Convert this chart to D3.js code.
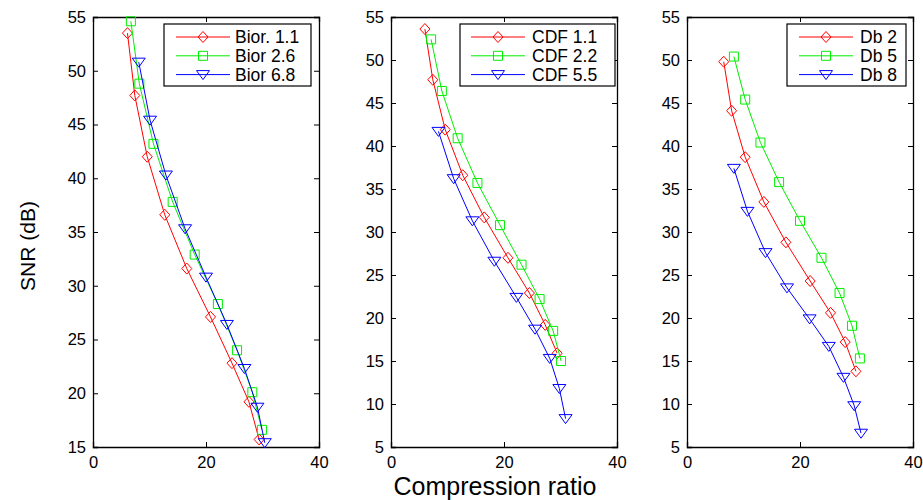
<!DOCTYPE html>
<html><head><meta charset="utf-8">
<script src="https://cdn.jsdelivr.net/npm/d3@7"></script>
<style>body{margin:0;background:#fff}svg{display:block}text{font-family:"Liberation Sans",Arial,sans-serif}</style>
</head><body><svg id="c" width="923" height="500"></svg>
<script>
// ---- data ----
const xTicks = [0, 20, 40];
const yTicksA = [15, 20, 25, 30, 35, 40, 45, 50, 55];
const yTicksB = [5, 10, 15, 20, 25, 30, 35, 40, 45, 50, 55];

const biorNames = ["Bior. 1.1", "Bior 2.6", "Bior 6.8"];
const bior11X = [6.1, 7.4, 9.6, 12.7, 16.6, 20.8, 24.6, 27.6, 29.4];
const bior11Y = [53.5, 47.7, 42.0, 36.6, 31.6, 27.1, 22.8, 19.2, 15.7];
const bior26X = [6.7, 8.2, 10.7, 14.1, 18.0, 22.1, 25.5, 28.2, 29.9];
const bior26Y = [54.6, 48.8, 43.2, 37.8, 32.9, 28.3, 24.0, 20.1, 16.6];
const bior68X = [8.1, 10.1, 12.9, 16.3, 20.0, 23.7, 26.8, 29.1, 30.4];
const bior68Y = [50.8, 45.4, 40.3, 35.3, 30.8, 26.4, 22.3, 18.7, 15.4];

const cdfNames = ["CDF 1.1", "CDF 2.2", "CDF 5.5"];
const cdf11X = [6.0, 7.4, 9.6, 12.7, 16.5, 20.7, 24.5, 27.3, 29.4];
const cdf11Y = [53.6, 47.7, 41.9, 36.6, 31.7, 27.0, 22.9, 19.2, 15.9];
const cdf22X = [7.1, 9.0, 11.8, 15.3, 19.3, 23.1, 26.3, 28.7, 30.1];
const cdf22Y = [52.4, 46.4, 40.9, 35.7, 30.8, 26.2, 22.2, 18.5, 15.0];
const cdf55X = [8.4, 11.1, 14.4, 18.3, 22.2, 25.5, 28.1, 29.8, 30.9];
const cdf55Y = [41.7, 36.2, 31.3, 26.6, 22.4, 18.7, 15.3, 11.8, 8.3];

const dbNames = ["Db 2", "Db 5", "Db 8"];
const db2X = [6.5, 7.9, 10.3, 13.6, 17.5, 21.8, 25.4, 28.0, 29.9];
const db2Y = [49.8, 44.1, 38.7, 33.5, 28.8, 24.3, 20.6, 17.2, 13.8];
const db5X = [8.3, 10.3, 13.0, 16.3, 20.0, 23.8, 27.0, 29.2, 30.6];
const db5Y = [50.4, 45.4, 40.4, 35.8, 31.3, 27.0, 22.9, 19.1, 15.3];
const db8X = [8.3, 10.7, 13.9, 17.7, 21.7, 25.1, 27.7, 29.6, 30.8];
const db8Y = [37.4, 32.4, 27.6, 23.5, 19.9, 16.7, 13.1, 9.8, 6.6];

const xLabel = "Compression ratio";
const yLabel = "SNR (dB)";

// ---- layout / styles ----
const colors = ["#ff0000", "#00ee00", "#0000ff"];
const shapes = ["diamond", "square", "tri"];
const plotTop = 17, plotBottom = 447;
const panels = [
  {x0: 93, x1: 319, yDom: [15, 55], yTicks: yTicksA, names: biorNames,
   series: [[bior11X, bior11Y], [bior26X, bior26Y], [bior68X, bior68Y]],
   leg: {l: 164, r: 311, lineX0: 176, lineX1: 230, textX: 235}},
  {x0: 391, x1: 617, yDom: [5, 55], yTicks: yTicksB, names: cdfNames,
   series: [[cdf11X, cdf11Y], [cdf22X, cdf22Y], [cdf55X, cdf55Y]],
   leg: {l: 460, r: 615, lineX0: 471, lineX1: 525, textX: 532}},
  {x0: 687, x1: 913, yDom: [5, 55], yTicks: yTicksB, names: dbNames,
   series: [[db2X, db2Y], [db5X, db5Y], [db8X, db8Y]],
   leg: {l: 787, r: 906, lineX0: 799, lineX1: 853, textX: 860}}
];

const svg = d3.select("#c");

function marker(g, shape, cx, cy, color) {
  let p;
  if (shape === "diamond") p = `M${cx},${cy-5.5}L${cx+5},${cy}L${cx},${cy+5.5}L${cx-5},${cy}Z`;
  else if (shape === "square") p = `M${cx-4.5},${cy-4.5}h9v9h-9Z`;
  else p = `M${cx-6.5},${cy-4}L${cx+6.5},${cy-4}L${cx},${cy+5}Z`;
  g.append("path").attr("d", p).attr("fill", "none").attr("stroke", color).attr("stroke-width", 1);
}

panels.forEach(P => {
  const x = d3.scaleLinear().domain([0, 40]).range([P.x0, P.x1]);
  const y = d3.scaleLinear().domain(P.yDom).range([plotBottom, plotTop]);
  const g = svg.append("g");

  const ax = g.append("g").attr("transform", `translate(0,${plotBottom})`)
    .call(d3.axisBottom(x).tickValues(xTicks).tickSize(-5).tickPadding(9).tickFormat(d3.format("d")));
  const axT = g.append("g").attr("transform", `translate(0,${plotTop})`)
    .call(d3.axisTop(x).tickValues(xTicks).tickSize(-5).tickFormat(""));
  const ay = g.append("g").attr("transform", `translate(${P.x0},0)`)
    .call(d3.axisLeft(y).tickValues(P.yTicks).tickSize(-5).tickPadding(7).tickFormat(d3.format("d")));
  const ayR = g.append("g").attr("transform", `translate(${P.x1},0)`)
    .call(d3.axisRight(y).tickValues(P.yTicks).tickSize(-5).tickFormat(""));
  [ax, axT, ay, ayR].forEach(a => {
    a.select(".domain").attr("stroke", "#000").attr("stroke-width", 1.3);
    a.selectAll(".tick line").attr("stroke", "#000");
    a.selectAll("text").attr("font-size", 16.5).attr("fill", "#000")
      .style("font-family", '"Liberation Sans", Arial, sans-serif');
  });

  P.series.forEach((s, i) => {
    const pts = s[0].map((v, k) => [v, s[1][k]]);
    g.append("path").datum(pts)
      .attr("d", d3.line().x(d => x(d[0])).y(d => y(d[1])))
      .attr("fill", "none").attr("stroke", colors[i]).attr("stroke-width", 1);
    pts.forEach(d => marker(g, shapes[i], x(d[0]), y(d[1]), colors[i]));
  });

  const L = P.leg;
  g.append("rect").attr("x", L.l).attr("y", 24).attr("width", L.r - L.l).attr("height", 62)
    .attr("fill", "#fff").attr("stroke", "#000").attr("stroke-width", 1.2);
  P.names.forEach((n, i) => {
    const yy = 37 + i * 18.8;
    g.append("line").attr("x1", L.lineX0).attr("x2", L.lineX1).attr("y1", yy).attr("y2", yy)
      .attr("stroke", colors[i]).attr("stroke-width", 1);
    marker(g, shapes[i], (L.lineX0 + L.lineX1) / 2, yy, colors[i]);
    g.append("text").attr("x", L.textX).attr("y", yy).attr("dy", "0.36em")
      .attr("font-size", 17.5).text(n);
  });
});

svg.append("text").attr("x", 495).attr("y", 495).attr("text-anchor", "middle")
  .attr("font-size", 25).text(xLabel);
svg.append("text").attr("transform", "translate(35,246) rotate(-90)").attr("text-anchor", "middle")
  .attr("font-size", 21).text(yLabel);
</script></body></html>
